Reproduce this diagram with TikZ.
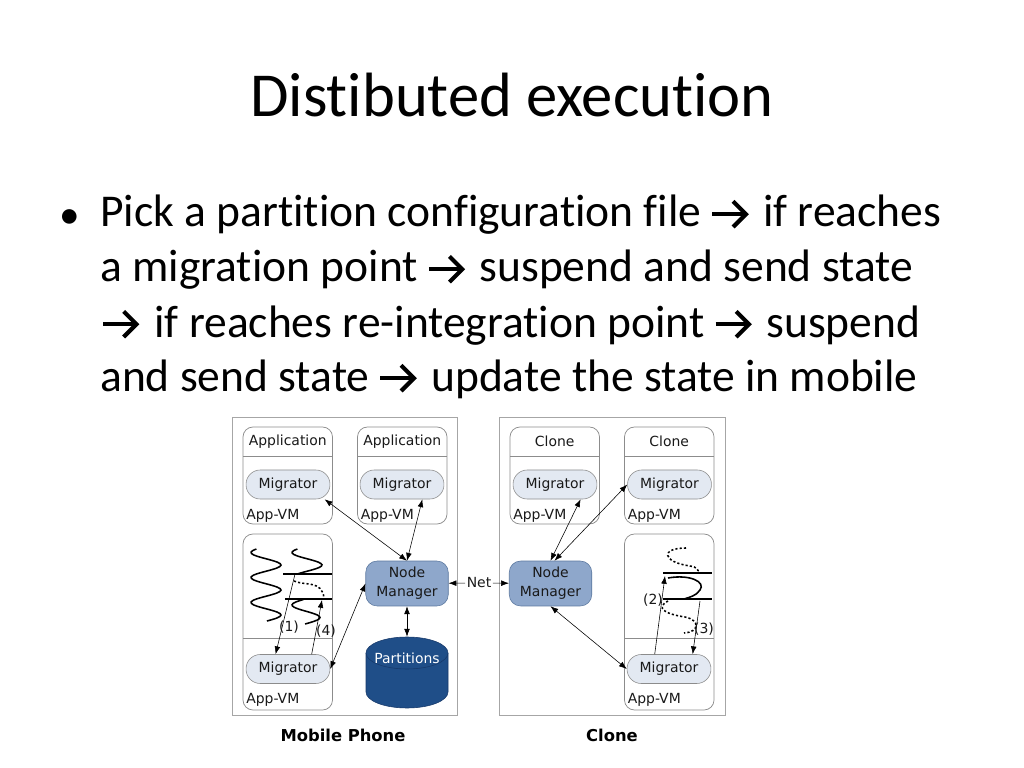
\documentclass[tikz,border=0pt]{standalone}
\usepackage{fontspec}
\setmainfont{Carlito}[Ligatures=NoCommon]
\newfontfamily\diagfont{DejaVu Sans}
\usetikzlibrary{arrows.meta}

\definecolor{frameg}{HTML}{A6A6A6}
\definecolor{boxg}{HTML}{8C8C8C}
\definecolor{migfill}{HTML}{E3E9F2}
\definecolor{nmfill}{HTML}{8EA7CB}
\definecolor{nmline}{HTML}{5B789F}
\definecolor{partfill}{HTML}{1F4E88}
\definecolor{partline}{HTML}{17396A}

% bold open-headed arrow of the bullet text, drawn from a named base point
\newcommand{\thenarrow}[1]{%
  \draw[thenline] ([shift={(0pt,9pt)}]#1) -- ++(23.5pt,0pt);
  \draw[thenline] ([shift={(14.5pt,18pt)}]#1) -- ++(9pt,-9pt) -- ++(-9pt,-9pt);}

\begin{document}
\begin{tikzpicture}[x=0.703125pt, y=-0.703125pt,
  bodytxt/.style={anchor=base west, inner sep=0pt, font=\fontsize{32}{39}\selectfont},
  thenline/.style={line width=2.9pt, line join=miter},
  frame/.style={draw=frameg, line width=0.6pt},
  appbox/.style={draw=boxg, line width=0.5pt, rounded corners=7pt},
  lbl/.style={inner sep=0pt, text=black!90, font=\diagfont\fontsize{9.8}{13.4}\selectfont},
  migr/.style={lbl, draw=boxg, fill=migfill, rounded corners=10pt, minimum width=59pt, minimum height=20.4pt},
  mgr/.style={lbl, draw=nmline, fill=nmfill, rounded corners=8pt, minimum width=58pt, minimum height=31.6pt, align=center},
  link/.style={{Latex[length=5.5pt,width=4pt]}-{Latex[length=5.5pt,width=4pt]}, line width=0.4pt},
  oneway/.style={-{Latex[length=5.5pt,width=4pt]}, line width=0.4pt},
  bar/.style={line width=1.6pt},
  thread/.style={line width=1.1pt},
  dotthread/.style={line width=1.1pt, dash pattern=on 1.5pt off 1.5pt},
  caption/.style={font=\diagfont\bfseries\fontsize{11.5}{13}\selectfont}]
\fill[white] (0,0) rectangle (1024,768);
\useasboundingbox (0,0) rectangle (1024,768);

% title and bullet text
\node[anchor=base, inner sep=0pt, font=\fontsize{44}{53}\selectfont] (title) at (512,117) {Distibuted execution};
\node[anchor=base, inner sep=0pt, font=\fontsize{29}{34}\selectfont] (dot) at (70,229) {\textbullet};

\node[bodytxt] (l1a) at (100,227) {Pick a partition configuration file};
\coordinate (a1) at ([xshift=7.5pt]l1a.base east);
\thenarrow{a1}
\node[bodytxt] (l1b) at ([xshift=43pt]l1a.base east) {if reaches};

\node[bodytxt] (l2a) at (100,282) {a migration point};
\coordinate (a2) at ([xshift=7.5pt]l2a.base east);
\thenarrow{a2}
\node[bodytxt] (l2b) at ([xshift=43pt]l2a.base east) {suspend and send state};

\coordinate (a3) at (103,337);
\thenarrow{a3}
\node[bodytxt] (l3a) at ([xshift=36pt]a3) {if reaches re-integration point};
\coordinate (a4) at ([xshift=7.5pt]l3a.base east);
\thenarrow{a4}
\node[bodytxt] (l3b) at ([xshift=43pt]l3a.base east) {suspend};

\node[bodytxt] (l4a) at (100,391) {and send state};
\coordinate (a5) at ([xshift=7.5pt]l4a.base east);
\thenarrow{a5}
\node[bodytxt] (l4b) at ([xshift=43pt]l4a.base east) {update the state in mobile};

% frames
\draw[frame] (232,417) rectangle (457,715);
\draw[frame] (499,417) rectangle (725,715);

% upper app boxes
\foreach \x/\t in {243/Application, 357.5/Application, 510/Clone, 624.5/Clone} {
  \draw[appbox] (\x,427) rectangle ++(89.5,97);
  \draw[boxg, line width=0.5pt] (\x,456) -- ++(89.5,0);
  \node[lbl] at (\x+44.75,441.5) {\t};
  \node[lbl, anchor=base west] at (\x+3,519) {App-VM};
}
% lower app boxes
\foreach \x in {243, 624.5} {
  \draw[appbox] (\x,534) rectangle ++(89.5,176);
  \draw[boxg, line width=0.5pt] (\x,638) -- ++(89.5,0);
  \node[lbl, anchor=base west] at (\x+3,703) {App-VM};
}

\node[migr] (migA) at (288,484.5) {Migrator};
\node[migr] (migB) at (402,484.5) {Migrator};
\node[migr] (migC) at (555,484.5) {Migrator};
\node[migr] (migD) at (669.5,484.5) {Migrator};
\node[migr] (migE) at (288,669) {Migrator};
\node[migr] (migF) at (669,669) {Migrator};

\node[mgr] (nmL) at (407,583.5) {Node\\Manager};
\node[mgr] (nmR) at (550.5,583.5) {Node\\Manager};
\node[lbl, inner sep=1pt] (net) at (479,583) {Net};

% partitions store
\draw[partline, fill=partfill] (366,653) -- (366,692) arc[start angle=180, end angle=0, x radius=41, y radius=16] -- (448,653);
\draw[partline, fill=partfill] (407,653) ellipse[x radius=41, y radius=16];
\node[minimum width=57.7pt, minimum height=50pt, inner sep=0pt] (part) at (407,672.5) {};
\node[lbl, text=white] (partlbl) at (407,658) {Partitions};

% threads, mobile side
\draw[thread] plot[smooth, domain=549:621, samples=50, variable=\y] ({266+15*sin(14.4*(\y-558.75))}, \y);
\draw[thread] plot[smooth, domain=549:574, samples=20, variable=\y] ({307+15*sin(14.4*(\y-558.75))}, \y);
\draw[thread] plot[smooth, domain=599.5:624, samples=20, variable=\y] ({306-14*sin(14.4*(\y-598.75))}, \y);
\draw[bar] (283,574) -- (332,574);
\draw[bar] (285,599) -- (332,599);
\draw[dotthread] (294,581) .. controls (305,586) and (322,580) .. (324,598);
\coordinate (c1) at (295,574);
\coordinate (c4) at (322,600);
\draw[oneway] (c1) -- (migE.130);
\draw[oneway] (migE.32) -- (c4);
\node[lbl] (n1) at (289,627) {(1)};
\node[lbl] (n4) at (326,631) {(4)};

% threads, clone side
\draw[dotthread] (686,548) .. controls (660,548) and (662,562) .. (690,566) .. controls (697,567) and (699,570) .. (698,573);
\draw[bar] (663,573) -- (712,573);
\draw[thread] (668,578) .. controls (690,574) and (706,582) .. (700,590) .. controls (696,596) and (690,597) .. (684,599);
\draw[bar] (663,599) -- (712,599);
\draw[dotthread] (668,601) .. controls (655,608) and (665,614) .. (685,617) .. controls (700,620) and (700,632) .. (684,633);
\coordinate (c2) at (665,576);
\coordinate (c3) at (700,601);
\draw[oneway] (migF.134) -- (c2);
\draw[oneway] (c3) -- (migF.32);
\node[lbl] (n2) at (653,600) {(2)};
\node[lbl] (n3) at (704,629) {(3)};

% connectors
\draw[link] (migA.-22) -- (nmL.north);
\draw[link] (migB.-36) -- (nmL.north);
\draw[link] (migE.east) -- (nmL.west);
\draw[link] (nmL) -- (part);
\draw[oneway] (net) -- (nmL);
\draw[oneway] (net) -- (nmR);
\draw[link] (nmR.north) -- (migC.-30);
\draw[link] (nmR.80) -- (migD.west);
\draw[link] (nmR.south) -- (migF.west);

\node[caption] (mob) at (343,735) {Mobile Phone};
\node[caption] (cln) at (612,735) {Clone};
\end{tikzpicture}
\end{document}
